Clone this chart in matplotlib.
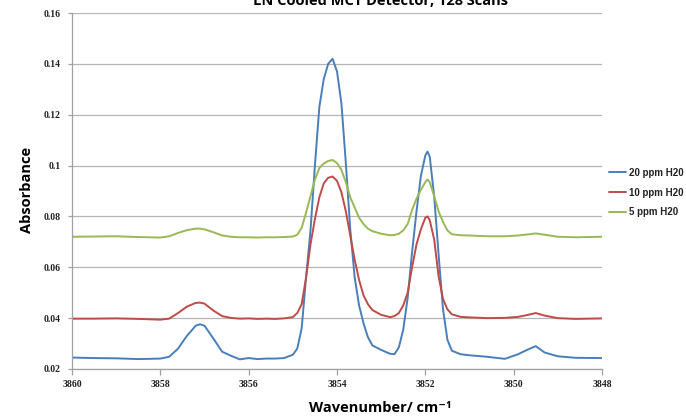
import matplotlib
matplotlib.use("Agg")
import matplotlib.pyplot as plt

# wavenumber grid (cm-1)
wavenumber = [3860.0, 3859.5, 3859.0, 3858.5, 3858.0, 3857.8, 3857.6, 3857.4, 3857.2, 3857.1,
              3857.0, 3856.8, 3856.6, 3856.4, 3856.2, 3856.0, 3855.8, 3855.6, 3855.4, 3855.2,
              3855.0, 3854.9, 3854.8, 3854.7, 3854.6, 3854.5, 3854.4, 3854.3, 3854.2, 3854.1,
              3854.0, 3853.9, 3853.8, 3853.7, 3853.6, 3853.5, 3853.4, 3853.3, 3853.2, 3853.0,
              3852.8, 3852.7, 3852.6, 3852.5, 3852.4, 3852.3, 3852.2, 3852.1, 3852.0, 3851.95,
              3851.9, 3851.8, 3851.7, 3851.6, 3851.5, 3851.4, 3851.2, 3851.0, 3850.6, 3850.2,
              3849.9, 3849.7, 3849.5, 3849.3, 3849.0, 3848.6, 3848.0]

ppm20 = [0.0245, 0.0243, 0.0242, 0.0239, 0.0241, 0.0248, 0.0280, 0.0330, 0.0370, 0.0376,
         0.0370, 0.0320, 0.0268, 0.0252, 0.0238, 0.0243, 0.0239, 0.0241, 0.0241, 0.0243,
         0.0256, 0.0280, 0.0360, 0.0560, 0.0745, 0.1000, 0.1230, 0.1340, 0.1400, 0.1420,
         0.1370, 0.1245, 0.1010, 0.0750, 0.0560, 0.0450, 0.0380, 0.0325, 0.0293, 0.0275,
         0.0260, 0.0258, 0.0285, 0.0355, 0.0480, 0.0660, 0.0820, 0.0960, 0.1040, 0.1055,
         0.1035, 0.0880, 0.0650, 0.0435, 0.0315, 0.0272, 0.0258, 0.0254, 0.0248, 0.0240,
         0.0258, 0.0275, 0.0290, 0.0265, 0.0250, 0.0244, 0.0243]

ppm10 = [0.0398, 0.0398, 0.0399, 0.0397, 0.0394, 0.0398, 0.0420, 0.0445, 0.0460, 0.0461,
         0.0457, 0.0430, 0.0408, 0.0401, 0.0398, 0.0399, 0.0397, 0.0398, 0.0397, 0.0399,
         0.0404, 0.0420, 0.0455, 0.0560, 0.0690, 0.0790, 0.0875, 0.0930, 0.0952, 0.0957,
         0.0940, 0.0895, 0.0820, 0.0725, 0.0630, 0.0550, 0.0490, 0.0455, 0.0432, 0.0413,
         0.0404, 0.0408, 0.0420, 0.0450, 0.0500, 0.0600, 0.0690, 0.0750, 0.0795, 0.0800,
         0.0785, 0.0710, 0.0565, 0.0475, 0.0435, 0.0415, 0.0405, 0.0403, 0.0400, 0.0401,
         0.0405, 0.0412, 0.0420, 0.0410, 0.0400, 0.0397, 0.0399]

ppm5 = [0.0720, 0.0721, 0.0722, 0.0719, 0.0717, 0.0722, 0.0735, 0.0746, 0.0752, 0.0752,
        0.0749, 0.0738, 0.0725, 0.0720, 0.0718, 0.0718, 0.0717, 0.0718, 0.0718, 0.0719,
        0.0721, 0.0728, 0.0755, 0.0815, 0.0880, 0.0945, 0.0990, 0.1008, 0.1018, 0.1022,
        0.1010, 0.0983, 0.0935, 0.0875, 0.0835, 0.0795, 0.0770, 0.0752, 0.0742, 0.0732,
        0.0726, 0.0727, 0.0732, 0.0745, 0.0770, 0.0825, 0.0870, 0.0905, 0.0935, 0.0945,
        0.0935, 0.0880, 0.0820, 0.0778, 0.0745, 0.0730, 0.0726, 0.0725, 0.0722, 0.0722,
        0.0725, 0.0729, 0.0733, 0.0728, 0.0720, 0.0718, 0.0720]

series = [("20 ppm H20", ppm20, "#4a7ebb"),
          ("10 ppm H20", ppm10, "#be4b48"),
          ("5 ppm H20", ppm5, "#98b954")]

x_ticks = [3860, 3858, 3856, 3854, 3852, 3850, 3848]
y_ticks = [0.02, 0.04, 0.06, 0.08, 0.1, 0.12, 0.14, 0.16]
y_labels = ["0.02", "0.04", "0.06", "0.08", "0.1", "0.12", "0.14", "0.16"]

fig = plt.figure(figsize=(6.86, 4.17), dpi=100)
ax = fig.add_axes([72 / 686, 1 - 369 / 417, 530 / 686, 356 / 417])

for name, vals, col in series:
    ax.plot(wavenumber, vals, color=col, lw=1.4, label=name,
            solid_joinstyle="round", solid_capstyle="round")

ax.set_xlim(3860, 3848)
ax.set_ylim(0.02, 0.16)
ax.set_xticks(x_ticks)
ax.set_yticks(y_ticks)
ax.set_yticklabels(y_labels)
ax.yaxis.grid(True, color="#b5b5b5", lw=0.9)
ax.set_axisbelow(True)

for s in ["top", "right"]:
    ax.spines[s].set_visible(False)
for s in ["left", "bottom"]:
    ax.spines[s].set_color("#a0a0a0")
    ax.spines[s].set_linewidth(0.9)
ax.tick_params(axis="x", colors="#a0a0a0", length=4, width=0.9, pad=4)
ax.tick_params(axis="y", colors="#a0a0a0", length=3, width=0.9, pad=5)
for lab in ax.get_xticklabels() + ax.get_yticklabels():
    lab.set_color("#222222")
    lab.set_fontfamily("Liberation Serif")
    lab.set_fontsize(7)
    lab.set_fontweight("bold")

fig.text(27 / 686, 1 - 190 / 417, "Absorbance", rotation=90, ha="center", va="center",
         fontsize=10.5, fontweight="bold", family="Open Sans")
fig.text(380 / 686, 1 - 408 / 417, "Wavenumber/ cm\u207b\u00b9", ha="center",
         va="center", fontsize=10.5, fontweight="bold", family=["Open Sans", "DejaVu Sans"])
fig.text(380 / 686, 1 - 5 / 417, "LN Cooled MCT Detector, 128 Scans", ha="center",
         va="baseline", fontsize=10.5, fontweight="bold", family="Open Sans")

leg = ax.legend(loc="upper left", bbox_to_anchor=(605 / 686, 1 - 164 / 417),
                bbox_transform=fig.transFigure, frameon=False, handlelength=1.8,
                handletextpad=0.3, labelspacing=1.0, borderaxespad=0,
                prop={"family": "Liberation Sans", "size": 7, "weight": "bold"})
for t in leg.get_texts():
    t.set_color("#222222")

fig.savefig("out.png", dpi=100)
